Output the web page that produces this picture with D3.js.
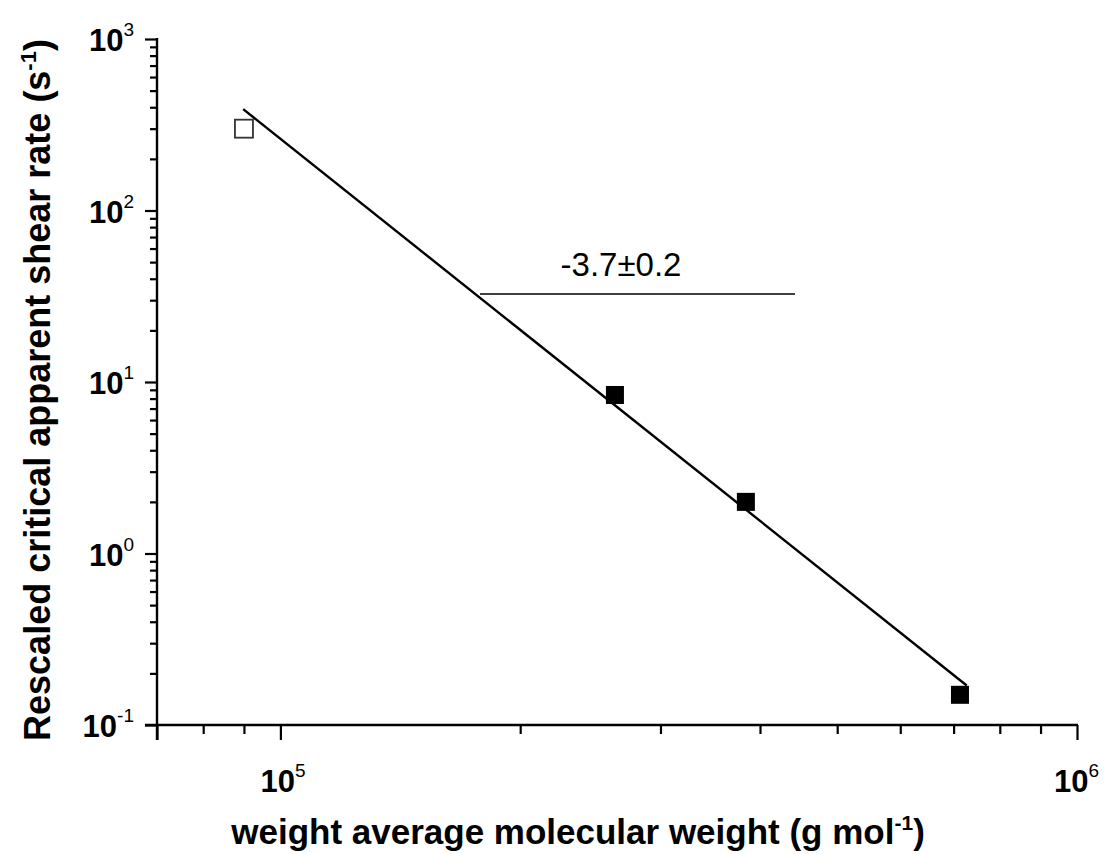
<!DOCTYPE html>
<html>
<head>
<meta charset="utf-8">
<script src="https://cdn.jsdelivr.net/npm/d3@7"></script>
<style>
  html, body { margin: 0; padding: 0; background: #fff; }
  svg { display: block; font-family: "Liberation Sans", Arial, sans-serif; }
</style>
</head>
<body>
<svg id="chart" width="1105" height="854"></svg>
<script>
// Molecular weight (g/mol) and rescaled critical apparent shear rate (1/s)
const openMw = [90000];
const openRate = [300];
const filledMw = [263000, 384000, 713000];
const filledRate = [8.4, 2.0, 0.15];

// Power-law fit: rate = A * Mw^slope
const fitSlope = -3.7;
const fitLogA = 20.918;
const fitRange = [89800, 727000];
const slopeLabel = "-3.7±0.2";

const xDomain = [70000, 1000000];
const yDomain = [0.1, 1000];
const xMajor = [{v: 1e5, e: "5"}, {v: 1e6, e: "6"}];
const yMajor = [{v: 1e3, e: "3"}, {v: 1e2, e: "2"}, {v: 1e1, e: "1"}, {v: 1e0, e: "0"}, {v: 1e-1, e: "-1"}];

const W = 1105, H = 854;
const svg = d3.select("#chart");
const m = {left: 157, right: 1077, top: 39, bottom: 725};

const x = d3.scaleLog().domain(xDomain).range([m.left, m.right]);
const y = d3.scaleLog().domain(yDomain).range([m.bottom, m.top]);

// tick values 1..9 in every decade of the domain
function decadeTicks(scale) {
  const [a, b] = scale.domain();
  const out = [];
  for (let e = Math.floor(Math.log10(a)); e <= Math.ceil(Math.log10(b)); e++) {
    for (let k = 1; k <= 9; k++) {
      const v = k * Math.pow(10, e);
      if (v >= a * 0.999 && v <= b * 1.001) out.push(v);
    }
  }
  return out;
}

const isMajor = v => Math.abs(Math.log10(v) - Math.round(Math.log10(v))) < 1e-9;

// Axes
const xAxis = d3.axisBottom(x).tickValues(decadeTicks(x)).tickSize(0).tickFormat("");
const gx = svg.append("g").attr("transform", `translate(0,${m.bottom})`).call(xAxis);
gx.select(".domain").attr("stroke", "#000").attr("stroke-width", 2.4)
  .attr("d", `M${m.left - 12},0H${m.right + 1}`);
gx.selectAll(".tick line")
  .attr("stroke", "#000").attr("stroke-width", 2.2)
  .attr("y2", (d, i) => (isMajor(d) || i === 0) ? 15 : 9);

const yAxis = d3.axisLeft(y).tickValues(decadeTicks(y)).tickSize(0).tickFormat("");
const gy = svg.append("g").attr("transform", `translate(${m.left},0)`).call(yAxis);
gy.select(".domain").attr("stroke", "#000").attr("stroke-width", 2.4)
  .attr("d", `M0,${m.bottom + 15}V${m.top - 1}`);
gy.selectAll(".tick line")
  .attr("stroke", "#000").attr("stroke-width", 2.2)
  .attr("x2", d => isMajor(d) ? -12 : -7);

// Tick labels as powers of ten
const xl = svg.append("g");
xMajor.forEach(t => {
  const tx = xl.append("text")
    .attr("x", x(t.v) - 20).attr("y", 792)
    .attr("text-anchor", "start")
    .attr("font-size", 31).attr("font-weight", "bold").attr("fill", "#000");
  tx.append("tspan").text("10");
  tx.append("tspan").attr("dy", -15).attr("font-size", 19).attr("font-weight", "normal").text(t.e);
  // keep the last label inside the canvas
  const bb = tx.node().getBBox();
  const overflow = bb.x + bb.width - (W - 6);
  if (overflow > 0) tx.attr("x", x(t.v) - 20 - overflow);
});

const yl = svg.append("g");
yMajor.forEach(t => {
  const tx = yl.append("text")
    .attr("x", 134).attr("y", y(t.v) + 12)
    .attr("text-anchor", "end")
    .attr("font-size", 31).attr("font-weight", "bold").attr("fill", "#000");
  tx.append("tspan").text("10");
  tx.append("tspan").attr("dy", -15).attr("font-size", 19).attr("font-weight", "normal").text(t.e);
});

// Axis titles
const xt = svg.append("text")
  .attr("x", 578).attr("y", 844)
  .attr("text-anchor", "middle")
  .attr("font-size", 35).attr("font-weight", "bold").attr("fill", "#000");
xt.append("tspan").text("weight average molecular weight (g mol");
xt.append("tspan").attr("dy", -14).attr("font-size", 21).text("-1");
xt.append("tspan").attr("dy", 14).text(")");

const yt = svg.append("text")
  .attr("transform", "translate(50,390) rotate(-90)")
  .attr("text-anchor", "middle")
  .attr("font-size", 36).attr("font-weight", "bold").attr("fill", "#000");
yt.append("tspan").text("Rescaled critical apparent shear rate (s");
yt.append("tspan").attr("dy", -14).attr("font-size", 22).text("-1");
yt.append("tspan").attr("dy", 14).text(")");

// Fit line
const fitLine = d3.line()
  .x(d => x(d))
  .y(d => y(Math.pow(10, fitLogA + fitSlope * Math.log10(d))));
svg.append("path")
  .datum(fitRange)
  .attr("d", fitLine)
  .attr("fill", "none").attr("stroke", "#000").attr("stroke-width", 2.4);

// Slope annotation
svg.append("line")
  .attr("x1", 480).attr("x2", 795).attr("y1", 294).attr("y2", 294)
  .attr("stroke", "#000").attr("stroke-width", 1.4);
svg.append("text")
  .attr("x", 621).attr("y", 276)
  .attr("text-anchor", "middle")
  .attr("font-size", 33).attr("fill", "#000")
  .text(slopeLabel);

// Markers
const sq = 18;
svg.append("g").selectAll("rect")
  .data(d3.zip(openMw, openRate))
  .join("rect")
  .attr("x", d => x(d[0]) - sq / 2).attr("y", d => y(d[1]) - sq / 2)
  .attr("width", sq).attr("height", sq)
  .attr("fill", "#fff").attr("stroke", "#333").attr("stroke-width", 1.8);

svg.append("g").selectAll("rect")
  .data(d3.zip(filledMw, filledRate))
  .join("rect")
  .attr("x", d => x(d[0]) - sq / 2).attr("y", d => y(d[1]) - sq / 2)
  .attr("width", sq).attr("height", sq)
  .attr("fill", "#000");
</script>
</body>
</html>
